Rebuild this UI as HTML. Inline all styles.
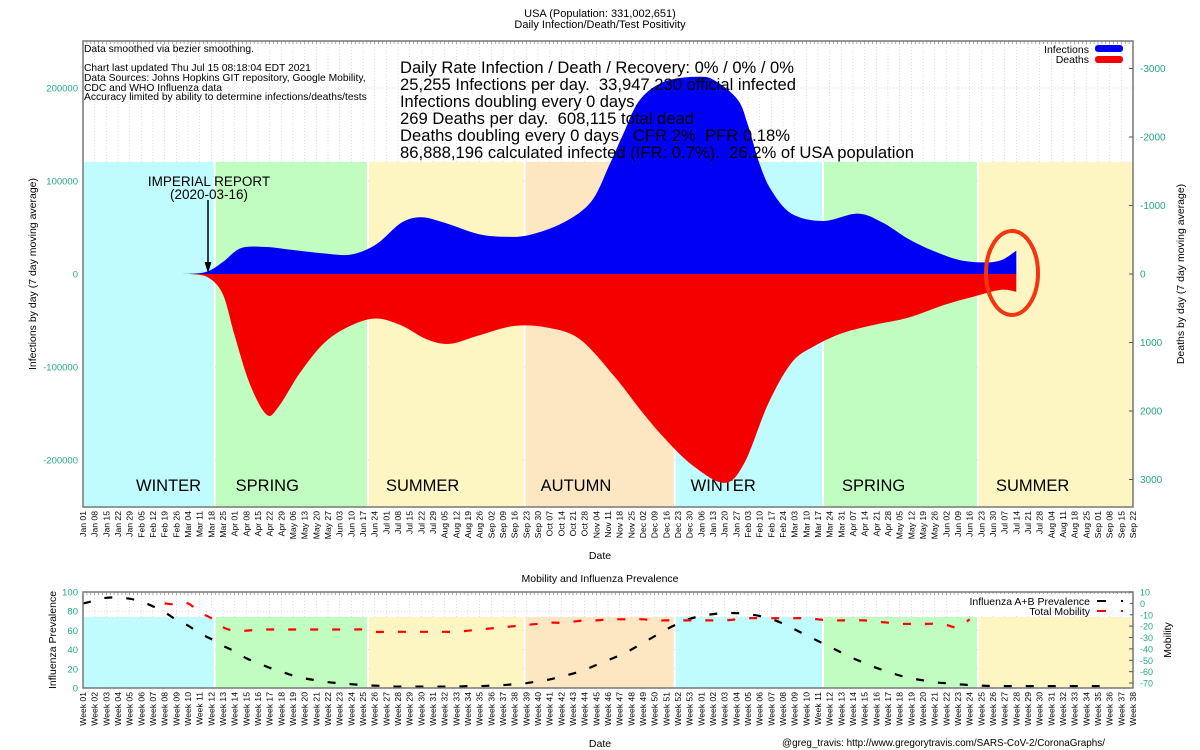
<!DOCTYPE html>
<html><head><meta charset="utf-8">
<style>
html,body{margin:0;padding:0;background:#fff;}
svg{display:block;font-family:"Liberation Sans",Arial,sans-serif;}
.pre{white-space:pre;}
</style></head>
<body>
<svg id="chart" width="1200" height="750" viewBox="0 0 1200 750" xmlns="http://www.w3.org/2000/svg"></svg>
<script>
// ---------- data ----------
const infDates = ["2020-02-10","2020-03-05","2020-03-16","2020-03-25","2020-04-05","2020-04-20","2020-05-05","2020-05-25","2020-06-10","2020-06-25","2020-07-10","2020-07-22","2020-08-05","2020-08-25","2020-09-10","2020-09-25","2020-10-15","2020-11-01","2020-11-12","2020-11-20","2020-11-30","2020-12-15","2021-01-05","2021-01-15","2021-01-28","2021-02-03","2021-02-10","2021-02-17","2021-03-01","2021-03-20","2021-04-10","2021-04-25","2021-05-10","2021-05-25","2021-06-10","2021-06-25","2021-07-05","2021-07-14"];
const infValues = [0,300,3000,13000,28000,29000,26000,22000,21000,32000,55000,61000,55000,43000,40000,42000,55000,78000,118000,150000,187000,207000,212000,207000,187000,160000,118000,90000,65000,57000,65000,55000,38000,25000,15000,12500,15000,25000];
const deathDates = ["2020-03-05","2020-03-16","2020-03-25","2020-04-01","2020-04-10","2020-04-20","2020-04-27","2020-05-10","2020-05-25","2020-06-10","2020-06-25","2020-07-10","2020-07-25","2020-08-08","2020-08-25","2020-09-15","2020-10-05","2020-10-25","2020-11-15","2020-12-01","2020-12-15","2021-01-01","2021-01-20","2021-02-01","2021-02-15","2021-03-01","2021-03-15","2021-04-01","2021-04-20","2021-05-10","2021-06-01","2021-06-20","2021-07-05","2021-07-14"];
const deathValues = [0,50,300,900,1600,2050,1950,1450,1000,750,650,750,950,1020,900,760,780,950,1500,2000,2400,2800,3050,2750,1900,1300,1050,860,740,640,450,320,230,260];
const fluValues = [88,91,94,94,93,90,85,79,71,65,57,51,44,38,31,26,21,17,13,10,8,6,5,4,3,2.5,2,1.5,1.5,1.5,1.5,1.5,1.5,2,2,2.5,3,4,5,7,9,12,15,19,24,29,34,40,47,54,61,67,72,75,77,78,78,77,75,72,67,61,55,49,43,37,31,26,21,17,13,10,8,6,5,4,3,2.5,2,2,2,2,2,2,2,2,2,2,2];
const mobStartWeek = 7;
const mobValues = [0,-1,0,-8,-13,-21,-24,-24,-23,-23,-23,-23,-23,-23,-23,-23,-23,-23,-25,-25,-25,-25,-25,-25,-25,-25,-24,-23,-22,-21,-20,-19,-18,-17,-17,-16,-15,-15,-14,-14,-14,-14,-15,-15,-15,-15,-15,-15,-15,-14,-13,-13,-13,-13,-13,-13,-14,-15,-15,-15,-15,-16,-17,-18,-18,-18,-18,-19,-21,-14];
const leftTicks = [200000,100000,0,-100000,-200000];
const leftTickLabels = ["200000","100000","0","-100000","-200000"];
const rightTicks = [-3000,-2000,-1000,0,1000,2000,3000];
const seasons = [["2020-01-01","2020-03-20","w","WINTER"],["2020-03-20","2020-06-20","sp","SPRING"],["2020-06-20","2020-09-22","su","SUMMER"],["2020-09-22","2020-12-21","au","AUTUMN"],["2020-12-21","2021-03-20","w","WINTER"],["2021-03-20","2021-06-21","sp","SPRING"],["2021-06-21","2021-09-22","su","SUMMER"]];
const fluTicks = [0,20,40,60,80,100];
const mobTicks = [10,0,-10,-20,-30,-40,-50,-60,-70];
// label inset within each season band (style, not data)
const seasonLabelInset = [53,21,18,16,16,19,18];

// ---------- helpers ----------
const svg = document.getElementById('chart');
const NS = "http://www.w3.org/2000/svg";
function el(tag, attrs, parent){const e=document.createElementNS(NS,tag);for(const k in attrs)e.setAttribute(k,attrs[k]);(parent||svg).appendChild(e);return e;}
function txt(s, attrs, parent){const e=el('text',attrs,parent);e.textContent=s;return e;}
const D0 = Date.UTC(2020,0,1);
function dayOf(s){const p=s.split('-');return (Date.UTC(+p[0],+p[1]-1,+p[2])-D0)/86400000;}
const PL=83, PR=1133, PT=41, PB=507;
const xDay = d => PL + d*(PR-PL)/630;
const yInf = v => 274 - v*93/100000;
const yDeath = v => 274 + v*68.5/1000;
const BT=592, BB=688;
const yFlu = v => BB - v*(BB-BT)/100;
const yMob = v => 592 + (10-v)*1.1375;
const xWeek = i => xDay(i*7);
const colors = {w:"#c0fbfd", sp:"#c1fcc0", su:"#fdf5c2", au:"#fde6c2"};
const green = "#22a884";

function smoothPath(pts){
  let d = `M${pts[0][0]},${pts[0][1]}`;
  for(let i=0;i<pts.length-1;i++){
    const p0=pts[Math.max(0,i-1)],p1=pts[i],p2=pts[i+1],p3=pts[Math.min(pts.length-1,i+2)];
    const c1=[p1[0]+(p2[0]-p0[0])/6,p1[1]+(p2[1]-p0[1])/6];
    const c2=[p2[0]-(p3[0]-p1[0])/6,p2[1]-(p3[1]-p1[1])/6];
    d+=` C${c1[0].toFixed(1)},${c1[1].toFixed(1)} ${c2[0].toFixed(1)},${c2[1].toFixed(1)} ${p2[0].toFixed(1)},${p2[1].toFixed(1)}`;
  }
  return d;
}

// ---------- titles ----------
const t1 = txt("USA (Population: 331,002,651)",{x:600,y:17,"text-anchor":"middle","font-size":"11"});


const t2 = txt("Daily Infection/Death/Test Positivity",{x:600,y:28,"text-anchor":"middle","font-size":"11"});



// ---------- grid ----------
const monthNames=["Jan","Feb","Mar","Apr","May","Jun","Jul","Aug","Sep","Oct","Nov","Dec"];
const gridMain = el('g',{});


for(let i=0;i<=90;i++){
  const x=xWeek(i);
  el('line',{x1:x,x2:x,y1:PT,y2:PB,stroke:"#d0d0d0","stroke-width":0.7,"stroke-dasharray":"1,2"},gridMain);
  el('line',{x1:x,x2:x,y1:BT,y2:BB,stroke:"#d0d0d0","stroke-width":0.7,"stroke-dasharray":"1,2"},gridMain);
}
leftTicks.forEach(v=>el('line',{x1:PL,x2:PR,y1:yInf(v),y2:yInf(v),stroke:"#d0d0d0","stroke-width":0.7,"stroke-dasharray":"1,2"},gridMain));
fluTicks.forEach(v=>el('line',{x1:PL,x2:PR,y1:yFlu(v),y2:yFlu(v),stroke:"#d0d0d0","stroke-width":0.7,"stroke-dasharray":"1,2"},gridMain));

// ---------- season bands ----------
seasons.forEach((s,i)=>{
  const x1=xDay(dayOf(s[0])), x2=Math.min(PR,xDay(dayOf(s[1])));
  const r=el('rect',{x:x1+(i?1:0),y:162,width:x2-x1-(i?1:0)-(i<seasons.length-1?1:0),height:PB-162,fill:colors[s[2]]});
  
  
  const r2=el('rect',{x:x1+(i?1:0),y:617,width:x2-x1-(i?1:0)-(i<seasons.length-1?1:0),height:BB-617,fill:colors[s[2]]});
  
  
  const lab=txt(s[3],{x:x1+seasonLabelInset[i],y:491,"font-size":"16.5"});
  
  
});

// ---------- series ----------
const ip = infDates.map((d,i)=>[xDay(dayOf(d)),yInf(infValues[i])]);
const ipath = smoothPath(ip)+` L${ip[ip.length-1][0]},274 L${ip[0][0]},274 Z`;
const inf = el('path',{d:ipath,fill:"#0000f5"});


const dp = deathDates.map((d,i)=>[xDay(dayOf(d)),yDeath(deathValues[i])]);
const dpath = smoothPath(dp)+` L${dp[dp.length-1][0]},274 L${dp[0][0]},274 Z`;
const dea = el('path',{d:dpath,fill:"#f50000"});



// ---------- annotations ----------
const notes=[["Data smoothed via bezier smoothing.",52],["Chart last updated Thu Jul 15 08:18:04 EDT 2021",71],["Data Sources: Johns Hopkins GIT repository, Google Mobility,",81],["CDC and WHO Influenza data",91],["Accuracy limited by ability to determine infections/deaths/tests",100]];
notes.forEach(n=>{const t=txt(n[0],{x:84,y:n[1],"font-size":"10.3"});});
const big=[["Daily Rate Infection / Death / Recovery: 0% / 0% / 0%",394],["25,255 Infections per day.  33,947,230 official infected",396],["Infections doubling every 0 days.",239],["269 Deaths per day.  608,115 total dead",294],["Deaths doubling every 0 days.  CFR 2%  PFR 0.18%",390],["86,888,196 calculated infected (IFR: 0.7%).  26.2% of USA population",514]];
big.forEach((b,i)=>{const t=txt(b[0],{x:400,y:73+i*17,"font-size":"16.5",textLength:b[1],lengthAdjust:"spacingAndGlyphs",class:"pre"});});

const imp=txt("IMPERIAL REPORT",{x:209,y:186,"text-anchor":"middle","font-size":"13.5"});


const imp2=txt("(2020-03-16)",{x:209,y:199,"text-anchor":"middle","font-size":"13.5"});


const ax=xDay(dayOf("2020-03-16"));
const arr=el('g',{});


el('line',{x1:ax,x2:ax,y1:200,y2:266,stroke:"#000","stroke-width":1.5},arr);
el('path',{d:`M${ax-3.5},262 L${ax+3.5},262 L${ax},273 Z`,fill:"#000"},arr);

const circ=el('ellipse',{cx:1012,cy:273,rx:26,ry:42,fill:"none",stroke:"#f53410","stroke-width":4});



// ---------- legend ----------
const lg=el('g',{});


txt("Infections",{x:1089,y:53,"text-anchor":"end","font-size":"10.5"},lg);
el('rect',{x:1095,y:45,width:28,height:7,rx:3,fill:"#0000f5"},lg);
txt("Deaths",{x:1089,y:63,"text-anchor":"end","font-size":"10.5"},lg);
el('rect',{x:1095,y:56,width:28,height:7,rx:3,fill:"#f50000"},lg);

// ---------- main frame / axes ----------
const fr=el('rect',{x:PL,y:PT,width:PR-PL,height:PB-PT,fill:"none",stroke:"#777","stroke-width":1.5});


for(let i=0;i<=90*7;i+=7/3){ el('line',{x1:xDay(i),x2:xDay(i),y1:PT,y2:PT+3,stroke:"#777","stroke-width":0.6}); }
leftTicks.forEach((v,i)=>{
  const t=txt(leftTickLabels[i],{x:78,y:yInf(v)+3.5,"text-anchor":"end","font-size":"9.5",fill:green});
  
  
});
rightTicks.forEach(v=>{
  el('line',{x1:PR-4,x2:PR,y1:yDeath(v),y2:yDeath(v),stroke:"#555"});
  const t=txt(String(v),{x:1140,y:yDeath(v)+3.5,"font-size":"10",fill:green});
  
  
});
const yl=txt("Infections by day (7 day moving average)",{x:0,y:0,"text-anchor":"middle","font-size":"10.5",transform:"translate(36,274) rotate(-90)"});


const yr=txt("Deaths by day (7 day moving average)",{x:0,y:0,"text-anchor":"middle","font-size":"10.5",transform:"translate(1184,274) rotate(-90)"});



for(let i=0;i<=90;i++){
  const dt=new Date(D0+i*7*86400000);
  const s=monthNames[dt.getUTCMonth()]+" "+String(dt.getUTCDate()).padStart(2,'0');
  const x=xWeek(i);
  const t=txt(s,{x:0,y:0,"text-anchor":"end","font-size":"8.6",transform:`translate(${x+3},511) rotate(-90)`});
  
  
  const wk = i<53 ? i+1 : i-52;
  const w=txt("Week "+String(wk).padStart(2,'0'),{x:0,y:0,"text-anchor":"end","font-size":"8.6",transform:`translate(${x+3},692) rotate(-90)`});
  
  
}
const xl=txt("Date",{x:600,y:559,"text-anchor":"middle","font-size":"10.5"});



// ---------- bottom chart ----------
const bt=txt("Mobility and Influenza Prevalence",{x:600,y:582,"text-anchor":"middle","font-size":"10.5"});


const fp = fluValues.map((v,i)=>[xWeek(i),yFlu(v)]);
const flu=el('path',{d:smoothPath(fp),fill:"none",stroke:"#000","stroke-width":2.2,"stroke-dasharray":"8,14"});


const mp = mobValues.map((v,i)=>[xWeek(i+mobStartWeek),yMob(v)]);
const mob=el('path',{d:smoothPath(mp),fill:"none",stroke:"#f00","stroke-width":2.2,"stroke-dasharray":"8,14"});


const bf=el('rect',{x:PL,y:BT,width:PR-PL,height:BB-BT,fill:"none",stroke:"#777","stroke-width":1.5});


for(let i=0;i<=90*7;i+=7/3){ el('line',{x1:xDay(i),x2:xDay(i),y1:BT,y2:BT+3,stroke:"#777","stroke-width":0.6}); }
fluTicks.forEach(v=>{
  const t=txt(String(v),{x:78,y:yFlu(v)+3.5,"text-anchor":"end","font-size":"9.5",fill:green});
  
  
});
mobTicks.forEach(v=>{
  el('line',{x1:PR-4,x2:PR,y1:yMob(v),y2:yMob(v),stroke:"#555"});
  const t=txt(String(v),{x:1140,y:yMob(v)+3.5,"font-size":"9",fill:green});
  
  
});
const fl=txt("Influenza Prevalence",{x:0,y:0,"text-anchor":"middle","font-size":"10.5",transform:"translate(56,640) rotate(-90)"});


const ml=txt("Mobility",{x:0,y:0,"text-anchor":"middle","font-size":"10.5",transform:"translate(1171,640) rotate(-90)"});


const lg2=el('g',{});


el('rect',{x:960,y:594,width:170,height:22,fill:"#fff"},lg2);
txt("Influenza A+B Prevalence",{x:1090,y:605,"text-anchor":"end","font-size":"10.5"},lg2);
el('line',{x1:1097,x2:1106,y1:601,y2:601,stroke:"#000","stroke-width":2},lg2);
el('line',{x1:1121,x2:1123,y1:601,y2:601,stroke:"#000","stroke-width":2},lg2);
txt("Total Mobility",{x:1090,y:615,"text-anchor":"end","font-size":"10.5"},lg2);
el('line',{x1:1097,x2:1106,y1:611,y2:611,stroke:"#f00","stroke-width":2},lg2);
el('line',{x1:1121,x2:1123,y1:611,y2:611,stroke:"#f00","stroke-width":2},lg2);
const xl2=txt("Date",{x:600,y:747,"text-anchor":"middle","font-size":"10.5"});


const cr=txt("@greg_travis: http://www.gregorytravis.com/SARS-CoV-2/CoronaGraphs/",{x:782,y:746,"font-size":"10.5",textLength:323,lengthAdjust:"spacingAndGlyphs"});


</script>
</body></html>
